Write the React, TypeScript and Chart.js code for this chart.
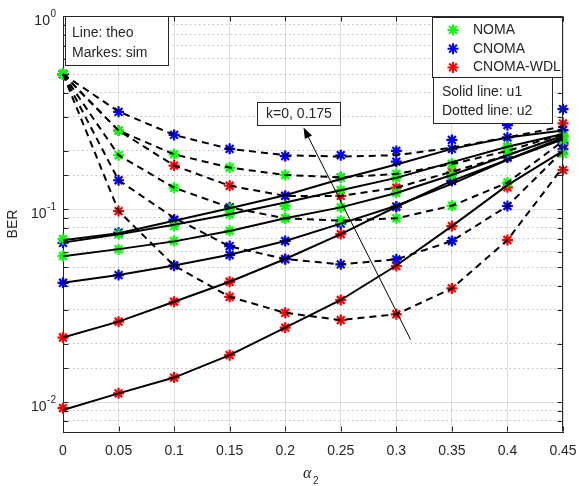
import React, { useEffect, useRef } from "react";
import { Chart, registerables } from "chart.js";

Chart.register(...registerables);

// ---------------- data ----------------
const alpha2 = [0, 0.05, 0.1, 0.15, 0.2, 0.25, 0.3, 0.35, 0.4, 0.45];
const xTickValues = [0, 0.05, 0.1, 0.15, 0.2, 0.25, 0.3, 0.35, 0.4, 0.45];
const yDecadeTicks = [1, 0.1, 0.01];
const yDecadeExponents = ["0", "-1", "-2"];

const schemeNames = ["NOMA", "CNOMA", "CNOMA-WDL"];
const schemeColors = ["#00ff00", "#0000ff", "#ff0000"];

// Theory, user u1 (solid lines)
const theoU1a = [0.069, 0.075, 0.087, 0.101, 0.118, 0.143, 0.17, 0.205, 0.235, 0.255];
const theoU1b = [0.067, 0.074, 0.083, 0.094, 0.108, 0.125, 0.145, 0.175, 0.21, 0.245];
const theoU1c = [0.057, 0.062, 0.068, 0.077, 0.0895, 0.102, 0.121, 0.15, 0.19, 0.24];
const theoU1d = [0.0415, 0.0455, 0.051, 0.058, 0.0683, 0.084, 0.104, 0.135, 0.18, 0.235];
const theoU1e = [0.0216, 0.0261, 0.0331, 0.042, 0.0551, 0.0742, 0.1028, 0.14, 0.18, 0.23];
const theoU1f = [0.0091, 0.0111, 0.0134, 0.0175, 0.0243, 0.0338, 0.051, 0.0816, 0.133, 0.2];

// Theory, user u2 (dashed lines)
const theoU2a = [0.5, 0.32, 0.242, 0.205, 0.19, 0.187, 0.19, 0.208, 0.235, 0.268];
const theoU2b = [0.5, 0.255, 0.192, 0.164, 0.15, 0.146, 0.152, 0.171, 0.2, 0.245];
const theoU2c = [0.5, 0.255, 0.168, 0.132, 0.117, 0.117, 0.129, 0.156, 0.19, 0.24];
const theoU2d = [0.5, 0.19, 0.129, 0.102, 0.0895, 0.087, 0.0895, 0.104, 0.137, 0.225];
const theoU2e = [0.5, 0.141, 0.09, 0.064, 0.0551, 0.0517, 0.0549, 0.0683, 0.1037, 0.2];
const theoU2f = [0.5, 0.0976, 0.0509, 0.0351, 0.029, 0.0266, 0.0285, 0.0388, 0.0691, 0.165];

// Simulation markers, u1
const simU1a = [0.0668, 0.0754, 0.0877, 0.102, 0.117, 0.146, 0.176, 0.205, 0.235, 0.2566];
const simU1b = [0.0698, 0.074, 0.0816, 0.0939, 0.1037, 0.1254, 0.145, 0.171, 0.21, 0.237];
const simU1c = [0.0571, 0.0618, 0.0683, 0.0772, 0.0895, 0.102, 0.1215, 0.15, 0.198, 0.226];
const simU1d = [0.0415, 0.0455, 0.051, 0.0578, 0.0683, 0.084, 0.1028, 0.14, 0.185, 0.22];
const simU1e = [0.0216, 0.0261, 0.0331, 0.042, 0.0551, 0.0742, 0.1028, 0.14, 0.185, 0.24];
const simU1f = [0.0093, 0.0111, 0.0134, 0.0175, 0.0243, 0.0338, 0.0507, 0.0816, 0.1296, 0.215];

// Simulation markers, u2
const simU2a = [0.5, 0.319, 0.242, 0.205, 0.188, 0.19, 0.2, 0.228, 0.272, 0.329];
const simU2b = [0.5, 0.255, 0.192, 0.164, 0.15, 0.146, 0.152, 0.171, 0.198, 0.237];
const simU2c = [0.5, 0.255, 0.168, 0.132, 0.117, 0.117, 0.129, 0.156, 0.21, 0.278];
const simU2d = [0.5, 0.19, 0.129, 0.1, 0.0895, 0.087, 0.0895, 0.104, 0.137, 0.193];
const simU2e = [0.5, 0.141, 0.088, 0.0643, 0.055, 0.0517, 0.0549, 0.0683, 0.1037, 0.204];
const simU2f = [0.5, 0.0976, 0.0509, 0.0351, 0.029, 0.0266, 0.0285, 0.0388, 0.0691, 0.159];

// curve table: [theory, sim, scheme index, dashed]
const curves: [number[], number[], number, boolean][] = [
  [theoU1a, simU1a, 1, false],
  [theoU1b, simU1b, 0, false],
  [theoU1c, simU1c, 0, false],
  [theoU1d, simU1d, 1, false],
  [theoU1e, simU1e, 2, false],
  [theoU1f, simU1f, 2, false],
  [theoU2a, simU2a, 1, true],
  [theoU2b, simU2b, 0, true],
  [theoU2c, simU2c, 2, true],
  [theoU2d, simU2d, 0, true],
  [theoU2e, simU2e, 1, true],
  [theoU2f, simU2f, 2, true],
];

const infoLines = ["Line: theo", "Markes: sim"];
const styleLines = ["Solid line: u1", "Dotted line: u2"];
const arrowLabel = "k=0, 0.175";
const yTitle = "BER";

// ---------------- styles ----------------
const FONT = '"Liberation Sans", Arial, Helvetica, sans-serif';
const AXIS = "#262626";
const GRID = "rgba(0,0,0,0.13)";
const MINOR = "rgba(0,0,0,0.25)";

const overlayPlugin = {
  id: "overlay",
  afterDraw(chart: any) {
    const { ctx, chartArea: ca, scales } = chart;
    const ys = scales.y;
    const xs = scales.x;
    ctx.save();
    const L = Math.round(ca.left) + 0.5;
    const R = Math.round(ca.right) - 0.5;
    const T = Math.round(ca.top) + 0.5;
    const B = Math.round(ca.bottom) - 0.5;

    // inward ticks
    ctx.strokeStyle = AXIS;
    ctx.lineWidth = 1;
    ctx.beginPath();
    ys.ticks.forEach((t: any) => {
      const y = Math.round(ys.getPixelForValue(t.value)) + 0.5;
      ctx.moveTo(L, y); ctx.lineTo(L + 5, y);
      ctx.moveTo(R, y); ctx.lineTo(R - 5, y);
    });
    xs.ticks.forEach((t: any) => {
      const x = Math.round(xs.getPixelForValue(t.value)) + 0.5;
      ctx.moveTo(x, B); ctx.lineTo(x, B - 5);
      ctx.moveTo(x, T); ctx.lineTo(x, T + 5);
    });
    // top & right border
    ctx.moveTo(L, T); ctx.lineTo(R, T); ctx.lineTo(R, B);
    ctx.stroke();

    // y decade labels 10^n
    ctx.fillStyle = AXIS;
    ctx.textBaseline = "middle";
    ctx.textAlign = "right";
    yDecadeTicks.forEach((v, i) => {
      const y = ys.getPixelForValue(v);
      ctx.font = `10px ${FONT}`;
      const sup = yDecadeExponents[i];
      const sw = ctx.measureText(sup).width;
      ctx.fillText(sup, 56, y - 2);
      ctx.font = `14px ${FONT}`;
      ctx.fillText("10", 56 - sw - 0.5, y + 5);
    });

    // y title
    ctx.save();
    ctx.translate(13, 224);
    ctx.rotate(-Math.PI / 2);
    ctx.textAlign = "center";
    ctx.font = `14px ${FONT}`;
    ctx.fillText(yTitle, 0, 0);
    ctx.restore();

    // x title alpha_2
    ctx.textAlign = "left";
    ctx.font = `italic 16px "Liberation Serif", "DejaVu Serif", serif`;
    ctx.fillText("\u03b1", 303, 474);
    ctx.font = `10px ${FONT}`;
    ctx.fillText("2", 313, 481);

    const box = (x: number, y: number, w: number, h: number) => {
      ctx.fillStyle = "#ffffff";
      ctx.fillRect(x, y, w, h);
      ctx.strokeStyle = AXIS;
      ctx.lineWidth = 1;
      ctx.strokeRect(x + 0.5, y + 0.5, w, h);
      ctx.fillStyle = AXIS;
    };

    ctx.font = `14px ${FONT}`;
    ctx.textAlign = "left";
    // info box
    box(65, 16, 103, 49);
    ctx.fillText(infoLines[0], 72, 33);
    ctx.fillText(infoLines[1], 72, 53);

    // legend
    box(432, 17, 130, 60);
    schemeNames.forEach((name, i) => {
      const y = 30 + i * 18.7;
      ctx.strokeStyle = schemeColors[i];
      ctx.lineWidth = 2;
      ctx.beginPath();
      for (let k = 0; k < 4; k++) {
        const a = (k * Math.PI) / 4;
        const dx = Math.cos(a) * 5.5;
        const dy = Math.sin(a) * 5.5;
        ctx.moveTo(453 - dx, y - dy);
        ctx.lineTo(453 + dx, y + dy);
      }
      ctx.stroke();
      ctx.fillStyle = AXIS;
      ctx.fillText(name, 473, y);
    });

    // style box
    box(433, 77, 119, 46);
    ctx.fillText(styleLines[0], 442, 92);
    ctx.fillText(styleLines[1], 442, 111);

    // k box
    box(257, 102, 83, 23);
    ctx.textAlign = "center";
    ctx.fillText(arrowLabel, 299, 114);

    // arrow
    const x0 = 410.5, y0 = 339.5, x1 = 303.5, y1 = 127.5;
    const ang = Math.atan2(y1 - y0, x1 - x0);
    const hl = 11, hw = 4;
    const bx = x1 - Math.cos(ang) * hl;
    const by = y1 - Math.sin(ang) * hl;
    ctx.strokeStyle = "#000";
    ctx.lineWidth = 1;
    ctx.beginPath();
    ctx.moveTo(x0, y0);
    ctx.lineTo(bx, by);
    ctx.stroke();
    ctx.fillStyle = "#000";
    ctx.beginPath();
    ctx.moveTo(x1, y1);
    ctx.lineTo(bx + Math.sin(ang) * hw, by - Math.cos(ang) * hw);
    ctx.lineTo(bx - Math.sin(ang) * hw, by + Math.cos(ang) * hw);
    ctx.closePath();
    ctx.fill();

    ctx.restore();
  },
};

export default function App() {
  const ref = useRef<HTMLCanvasElement>(null);

  useEffect(() => {
    if (!ref.current) return;
    const datasets: any[] = [];
    curves.forEach(([theo, sim, si, dashed]) => {
      datasets.push({
        data: alpha2.map((x, i) => ({ x, y: theo[i] })),
        borderColor: "#000000",
        borderWidth: 2,
        borderDash: dashed ? [7, 5] : [],
        pointRadius: 0,
        fill: false,
        tension: 0,
        clip: 2,
        order: 0,
      });
    });
    curves.forEach(([theo, sim, si]) => {
      datasets.push({
        data: alpha2.map((x, i) => ({ x, y: sim[i] })),
        showLine: false,
        pointStyle: "star",
        pointRadius: 5.5,
        pointBorderWidth: 2.2,
        pointBorderColor: schemeColors[si],
        pointBackgroundColor: schemeColors[si],
        clip: false,
        order: si === 0 ? 1 : si === 1 ? 2 : 3,
      });
    });

    const chart = new Chart(ref.current, {
      type: "line",
      data: { datasets },
      plugins: [overlayPlugin],
      options: {
        responsive: false,
        animation: false,
        events: [],
        layout: { padding: { top: 16, right: 16, left: 0, bottom: 0 } },
        plugins: { legend: { display: false }, tooltip: { enabled: false } },
        scales: {
          x: {
            type: "linear",
            min: 0,
            max: 0.45,
            afterBuildTicks: (scale: any) => {
              scale.ticks = xTickValues.map((v) => ({ value: v }));
            },
            afterFit: (scale: any) => {
              scale.height = 54;
              scale.paddingLeft = 0;
              scale.paddingRight = 0;
            },
            ticks: {
              autoSkip: false,
              maxRotation: 0,
              padding: 11,
              color: AXIS,
              font: { family: FONT, size: 14 },
              callback: (v: any) => String(Number(Number(v).toFixed(2))),
            },
            grid: { color: GRID, lineWidth: 1, drawTicks: false },
            border: { color: AXIS, width: 1 },
          },
          y: {
            type: "logarithmic",
            min: 0.007,
            max: 1,
            afterFit: (scale: any) => {
              scale.width = 63;
              scale.paddingTop = 0;
              scale.paddingBottom = 0;
            },
            ticks: { display: false, autoSkip: false },
            grid: {
              drawTicks: false,
              lineWidth: 1,
              color: (c: any) => (c.tick && c.tick.major ? GRID : MINOR),
            },
            border: {
              color: AXIS,
              width: 1,
              dash: (c: any) => (c.tick && !c.tick.major ? [1.5, 3] : []),
            },
          },
        },
      } as any,
    });
    return () => chart.destroy();
  }, []);

  return (
    <div style={{ position: "fixed", left: 0, top: 0, width: 579, height: 486, background: "#fff" }}>
      <canvas ref={ref} width={579} height={486} style={{ display: "block" }} />
    </div>
  );
}
